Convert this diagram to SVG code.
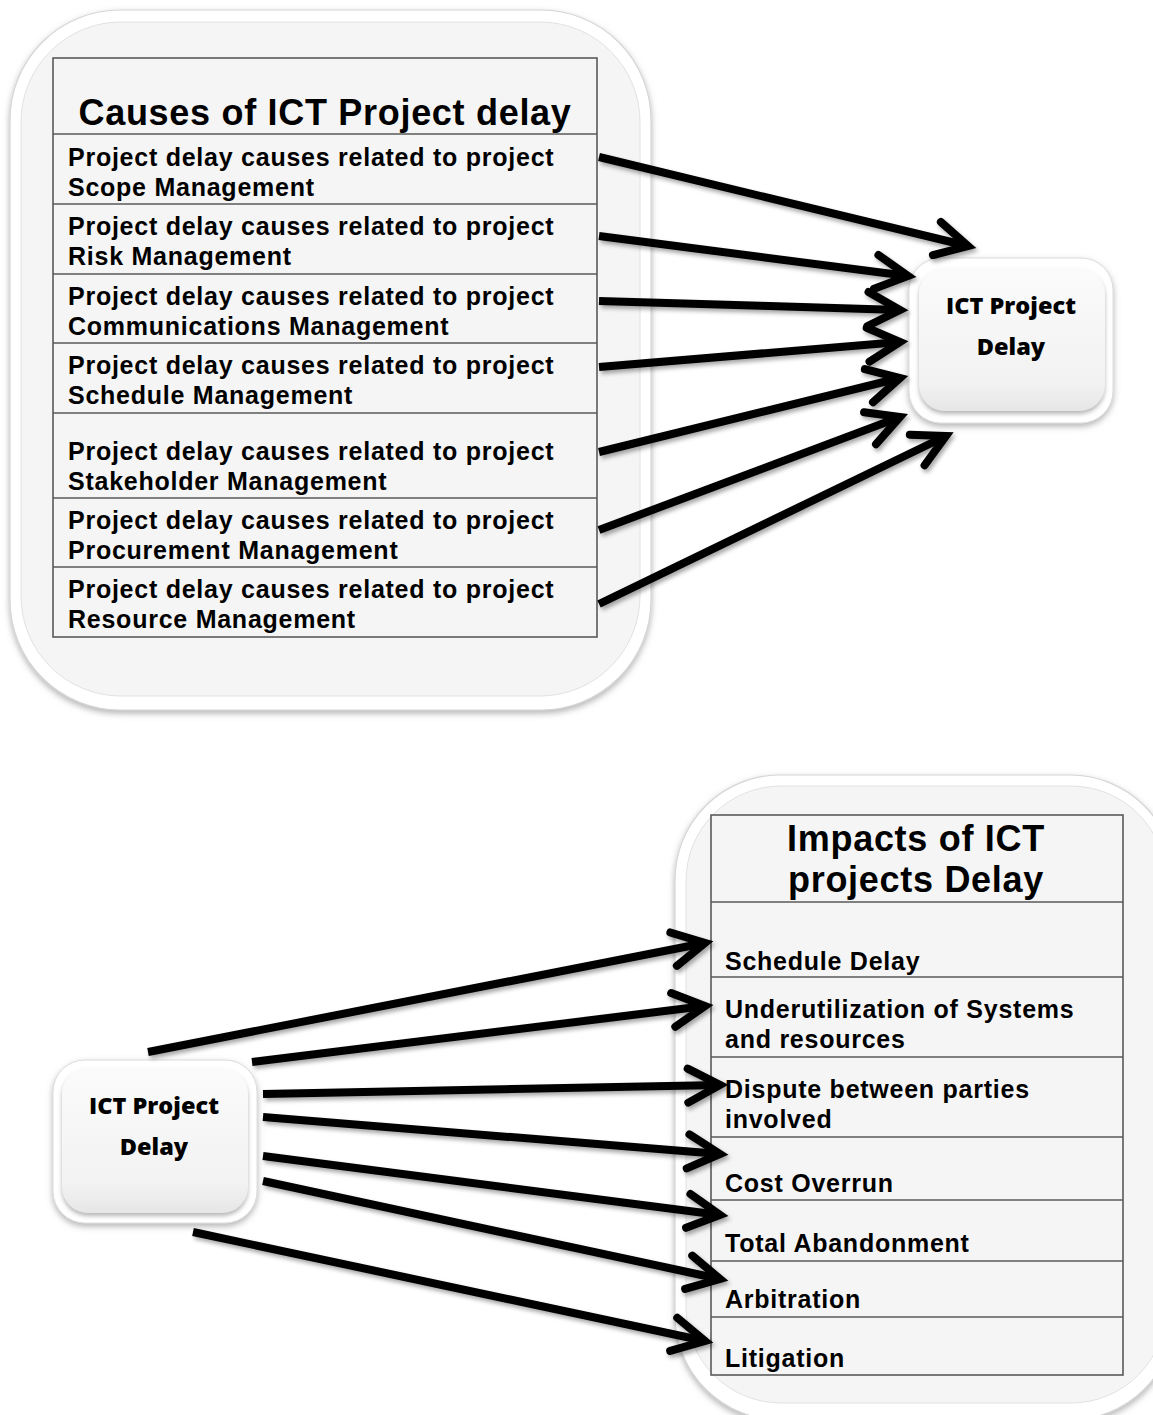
<svg xmlns="http://www.w3.org/2000/svg" width="1153" height="1415" viewBox="0 0 1153 1415">
<style>
.cell{font-family:"Liberation Sans",Arial,sans-serif;font-weight:bold;font-size:25px;fill:#000;letter-spacing:0.75px}
.title{font-family:"Liberation Sans",Arial,sans-serif;font-weight:bold;font-size:36px;fill:#000;text-anchor:middle;letter-spacing:0.7px}
.node{font-family:"Open Sans",Lato,sans-serif;font-weight:800;font-size:23.5px;fill:#000;text-anchor:middle}
.grid{fill:none;stroke:#5a5a5a;stroke-width:1.6}
.conn{fill:none;stroke:#000;stroke-width:8;marker-end:url(#head)}
.outer{fill:#fff;stroke:#d6d6d6;stroke-width:1.2;filter:url(#soft)}
.inner{fill:#f5f5f5;stroke:#e2e2e2;stroke-width:1}
.nouter{fill:#fff;stroke:#dcdcdc;stroke-width:1;filter:url(#soft)}
.ninner{fill:url(#ng);filter:url(#bev)}
</style>
<defs>
<filter id="soft" x="-10%" y="-10%" width="120%" height="120%">
<feDropShadow dx="0" dy="3" stdDeviation="3" flood-color="#777" flood-opacity="0.55"/>
</filter>
<filter id="bev" x="-10%" y="-10%" width="120%" height="120%">
<feDropShadow dx="0" dy="3" stdDeviation="2" flood-color="#999" flood-opacity="0.7"/>
</filter>
<filter id="lsh" x="-10%" y="-20%" width="120%" height="140%">
<feDropShadow dx="2" dy="3" stdDeviation="2" flood-color="#000" flood-opacity="0.35"/>
</filter>
<linearGradient id="ng" x1="0" y1="0" x2="0" y2="1">
<stop offset="0" stop-color="#fbfbfb"/>
<stop offset="0.8" stop-color="#f2f2f2"/>
<stop offset="1" stop-color="#e6e6e6"/>
</linearGradient>
<marker id="head" markerUnits="userSpaceOnUse" viewBox="-40 -24 48 48" refX="0" refY="0" markerWidth="48" markerHeight="48" orient="auto" overflow="visible">
<path d="M-32,-17 L0,0 L-32,17" fill="none" stroke="#000" stroke-width="8" stroke-linecap="round" stroke-linejoin="miter"/>
</marker>
</defs>

<g id="causes">
<rect class="outer" x="10" y="10" width="641" height="700" rx="110"/>
<rect class="inner" x="21" y="22" width="619" height="674" rx="100"/>
<rect class="grid" x="53" y="58" width="544" height="579"/>
<path class="grid" d="M53,134H597M53,204H597M53,274H597M53,343H597M53,413H597M53,498H597M53,567H597"/>
<text class="title" x="325" y="125">Causes of ICT Project delay</text>
<text class="cell" x="68" y="166">Project delay causes related to project</text>
<text class="cell" x="68" y="196">Scope Management</text>
<text class="cell" x="68" y="235">Project delay causes related to project</text>
<text class="cell" x="68" y="265">Risk Management</text>
<text class="cell" x="68" y="305">Project delay causes related to project</text>
<text class="cell" x="68" y="335">Communications Management</text>
<text class="cell" x="68" y="374">Project delay causes related to project</text>
<text class="cell" x="68" y="404">Schedule Management</text>
<text class="cell" x="68" y="460">Project delay causes related to project</text>
<text class="cell" x="68" y="490">Stakeholder Management</text>
<text class="cell" x="68" y="529">Project delay causes related to project</text>
<text class="cell" x="68" y="559">Procurement Management</text>
<text class="cell" x="68" y="598">Project delay causes related to project</text>
<text class="cell" x="68" y="628">Resource Management</text>
</g>

<g id="delay-top">
<rect class="nouter" x="909" y="258" width="204" height="165" rx="32"/>
<rect class="ninner" x="919" y="268" width="186" height="143" rx="26"/>
<text class="node" x="1011" y="314">ICT Project</text>
<text class="node" x="1011" y="355">Delay</text>
</g>

<g id="impacts">
<rect class="outer" x="675" y="775" width="500" height="645" rx="105"/>
<rect class="inner" x="686" y="786" width="480" height="617" rx="95"/>
<rect class="grid" x="711" y="815" width="412" height="560"/>
<path class="grid" d="M711,902H1123M711,977H1123M711,1057H1123M711,1137H1123M711,1200H1123M711,1261H1123M711,1317H1123"/>
<text class="title" x="916" y="851">Impacts of ICT</text>
<text class="title" x="916" y="892">projects Delay</text>
<text class="cell" x="725" y="970">Schedule Delay</text>
<text class="cell" x="725" y="1018">Underutilization of Systems</text>
<text class="cell" x="725" y="1048">and resources</text>
<text class="cell" x="725" y="1098">Dispute between parties</text>
<text class="cell" x="725" y="1128">involved</text>
<text class="cell" x="725" y="1192">Cost Overrun</text>
<text class="cell" x="725" y="1252">Total Abandonment</text>
<text class="cell" x="725" y="1308">Arbitration</text>
<text class="cell" x="725" y="1367">Litigation</text>
</g>

<g id="delay-bottom">
<rect class="nouter" x="53" y="1060" width="204" height="163" rx="32"/>
<rect class="ninner" x="62" y="1068" width="186" height="145" rx="26"/>
<text class="node" x="154" y="1114">ICT Project</text>
<text class="node" x="154" y="1155">Delay</text>
</g>

<g id="connectors" filter="url(#lsh)">
<path class="conn" d="M599,157L968,246"/>
<path class="conn" d="M599,236L908,276"/>
<path class="conn" d="M599,301L900,310"/>
<path class="conn" d="M599,367L900,342"/>
<path class="conn" d="M599,452L900,378"/>
<path class="conn" d="M599,530L900,417"/>
<path class="conn" d="M599,604L946,436"/>
<path class="conn" d="M148,1052L705,943"/>
<path class="conn" d="M252,1062L705,1006"/>
<path class="conn" d="M263,1094L720,1085"/>
<path class="conn" d="M263,1117L720,1154"/>
<path class="conn" d="M263,1156L720,1215"/>
<path class="conn" d="M263,1181L720,1279"/>
<path class="conn" d="M193,1232L705,1341"/>
</g>
</svg>
